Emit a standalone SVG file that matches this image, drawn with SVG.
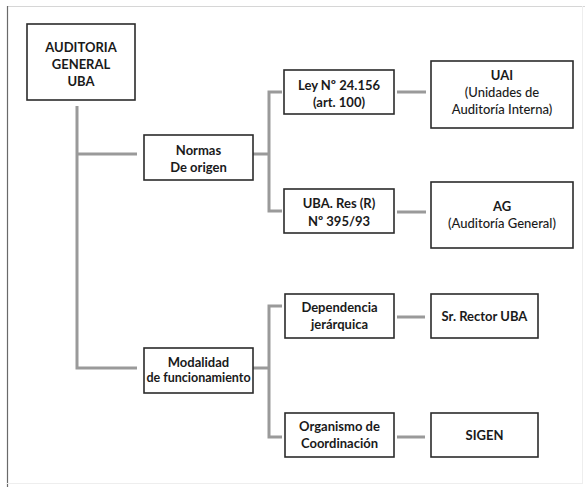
<svg xmlns="http://www.w3.org/2000/svg" width="585" height="487" viewBox="0 0 585 487">
<style>
.box{fill:#fff;stroke:#2b2b2b;stroke-width:1.6}
.c{fill:none;stroke:#9a9a9a;stroke-width:3}
text{font-family:Lato,"Open Sans","Liberation Sans",sans-serif;font-size:13px;fill:#1a1a1a;text-anchor:middle;font-weight:700}
.r{font-weight:500}
</style>
<rect x="0" y="0" width="585" height="487" fill="#fff"/>
<line x1="7" y1="6.5" x2="585" y2="6.5" stroke="#d6d6d6" stroke-width="1.2"/>
<line x1="7.5" y1="6" x2="7.5" y2="487" stroke="#6a6a6a" stroke-width="1.2"/>
<line x1="582.5" y1="6" x2="582.5" y2="483" stroke="#eeeeee" stroke-width="1"/>
<line x1="7" y1="483.5" x2="583" y2="483.5" stroke="#eeeeee" stroke-width="1"/>
<g id="connectors">
<path class="c" d="M77 106V368H137M77 154H137"/>
<path class="c" d="M253 154H269M282 92H269V211H282"/>
<path class="c" d="M397 92H426M397 212H426"/>
<path class="c" d="M253 368H269M282 306H269V437H282"/>
<path class="c" d="M397 317H425M397 437H425"/>
</g>
<g id="auditoria"><rect class="box" x="27" y="24" width="108" height="76"/>
<text x="81" y="52">AUDITORIA</text><text x="81" y="69">GENERAL</text><text x="81" y="86">UBA</text></g>
<g id="normas"><rect class="box" x="144" y="135" width="109" height="45"/>
<text x="198.5" y="155">Normas</text><text x="198.5" y="172">De origen</text></g>
<g id="ley"><rect class="box" x="284" y="70" width="110" height="44"/>
<text x="339" y="90">Ley Nº 24.156</text><text x="339" y="107">(art. 100)</text></g>
<g id="uai"><rect class="box" x="431" y="61" width="142" height="67"/>
<text x="502" y="80">UAI</text><text class="r" x="502" y="97">(Unidades de</text><text class="r" x="502" y="114">Auditoría Interna)</text></g>
<g id="ubares"><rect class="box" x="284" y="189" width="110" height="44"/>
<text x="339" y="208">UBA. Res (R)</text><text x="339" y="226">Nº 395/93</text></g>
<g id="ag"><rect class="box" x="431" y="182" width="142" height="66"/>
<text x="502" y="211">AG</text><text class="r" x="502" y="228">(Auditoría General)</text></g>
<g id="modalidad"><rect class="box" x="144" y="348" width="109" height="45"/>
<text x="198.5" y="367">Modalidad</text><text x="198.5" y="382" style="font-size:12.5px">de funcionamiento</text></g>
<g id="dependencia"><rect class="box" x="285" y="294" width="109" height="44"/>
<text x="339.5" y="312">Dependencia</text><text x="339.5" y="329">jerárquica</text></g>
<g id="rector"><rect class="box" x="431" y="294" width="107" height="44"/>
<text x="484.5" y="321">Sr. Rector UBA</text></g>
<g id="organismo"><rect class="box" x="285" y="413" width="109" height="44"/>
<text x="339.5" y="431">Organismo de</text><text x="339.5" y="448">Coordinación</text></g>
<g id="sigen"><rect class="box" x="431" y="413" width="107" height="44"/>
<text x="484.5" y="440">SIGEN</text></g>
</svg>
